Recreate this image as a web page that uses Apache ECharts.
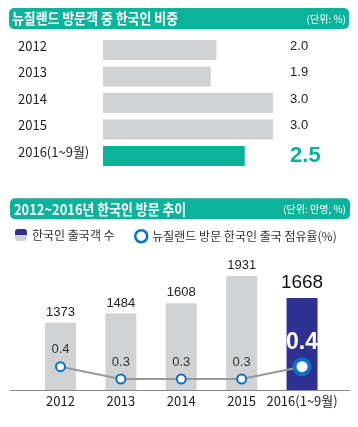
<!DOCTYPE html>
<html><head><meta charset="utf-8">
<script src="https://cdn.jsdelivr.net/npm/echarts@6/dist/echarts.min.js"></script>
<style>html,body{margin:0;padding:0;background:#fff}#c{width:358px;height:427px}</style>
</head><body><div id="c"></div>
<script>
// ---- data ----
const shareYears = ['2012', '2013', '2014', '2015', '2016(1~9월)'];
const shareValues = [2.0, 1.9, 3.0, 3.0, 2.5];
const trendYears = ['2012', '2013', '2014', '2015', '2016(1~9월)'];
const visitors = [1373, 1484, 1608, 1931, 1668];
const nzShare = [0.4, 0.3, 0.3, 0.3, 0.4];
const title1 = '뉴질랜드 방문객 중 한국인 비중';
const unit1 = '(단위: %)';
const title2 = '2012~2016년 한국인 방문 추이';
const unit2 = '(단위: 만명, %)';
const seriesName1 = '한국인 출국객 수';
const seriesName2 = '뉴질랜드 방문 한국인 출국 점유율(%)';

// ---- styles ----
const TEAL = '#0bb39b', GRAY = '#d1d2d4', NAVY = '#2e3192', BLUE = '#0a72c4';
const FONT = "'Liberation Sans','Noto Sans CJK KR',sans-serif";
const KFONT = "'Noto Sans CJK KR','Liberation Sans',sans-serif";
const last = shareValues.length - 1;

const chart = echarts.init(document.getElementById('c'), null, {renderer: 'canvas'});
chart.setOption({
  animation: false,
  textStyle: {fontFamily: FONT},
  grid: [
    {left: 103, top: 36.75, width: 187.1, height: 132.5},
    {left: 30.25, width: 302, top: 228.5, height: 161.5},
    {left: 30.25, width: 302, top: 354.4, height: 36.9}
  ],
  xAxis: [
    {type: 'value', gridIndex: 0, min: 0, max: 3.3, show: false},
    {type: 'category', gridIndex: 1, data: trendYears,
     axisLine: {show: false}, axisTick: {show: false},
     axisLabel: {interval: 0, margin: 5, fontSize: 13, color: '#222', fontFamily: KFONT}},
    {type: 'category', gridIndex: 2, data: trendYears, show: false}
  ],
  yAxis: [
    {type: 'category', gridIndex: 0, inverse: true, data: shareYears,
     axisLine: {show: false}, axisTick: {show: false},
     axisLabel: {interval: 0, align: 'left', margin: 85, fontSize: 13, color: '#222', fontFamily: KFONT,
       formatter: v => '{y|' + v + '}',
       rich: {y: {fontSize: 13, color: '#222', fontFamily: KFONT, padding: [0,0,8,0]}}}},
    {type: 'category', gridIndex: 0, inverse: true, position: 'right',
     data: shareValues.map(v => v.toFixed(1)),
     axisLine: {show: false}, axisTick: {show: false},
     axisLabel: {interval: 0, align: 'left', margin: 0, fontSize: 13, color: '#222',
       formatter: (v, i) => i === last ? '{big|' + v + '}' : '{n|' + v + '}',
       rich: {n: {fontSize: 13, color: '#222', padding: [0,0,8,0]},
              big: {fontSize: 22, fontWeight: 'bold', color: TEAL, padding: [0,0,0,0]}}}},
    {type: 'value', gridIndex: 1, min: 570, max: 2500, show: false},
    {type: 'value', gridIndex: 2, min: 0.2, max: 0.5, show: false}
  ],
  legend: [
    {left: 10, top: 224, itemWidth: 12, itemHeight: 12, itemGap: 0,
     data: [seriesName1],
     itemStyle: {color: {type: 'linear', x: 0, y: 0, x2: 0, y2: 1,
       colorStops: [{offset: 0, color: NAVY}, {offset: 0.5, color: NAVY},
                    {offset: 0.5, color: GRAY}, {offset: 1, color: GRAY}]}},
     textStyle: {fontSize: 12, color: '#333', fontFamily: KFONT}},
    {left: 129, top: 224, itemWidth: 12, itemHeight: 12, icon: 'circle',
     data: [seriesName2],
     itemStyle: {color: '#fff', borderColor: BLUE, borderWidth: 2.5},
     textStyle: {fontSize: 12, color: '#333', fontFamily: KFONT}}
  ],
  series: [
    {type: 'bar', name: 'share', xAxisIndex: 0, yAxisIndex: 0, barWidth: 20,
     data: shareValues.map((v, i) => ({value: v, itemStyle: {color: i === last ? TEAL : GRAY}}))},
    {type: 'bar', name: seriesName1, xAxisIndex: 1, yAxisIndex: 2, barWidth: 31,
     itemStyle: {color: GRAY},
     data: visitors.map((v, i) => ({value: v,
       itemStyle: {color: i === last ? NAVY : GRAY},
       label: i === last ? {fontSize: 19, color: '#111', distance: 6} : {}})),
     label: {show: true, position: 'top', distance: 4, fontSize: 13, color: '#222'}},
    {type: 'line', name: seriesName2, xAxisIndex: 2, yAxisIndex: 3,
     data: nzShare.map((v, i) => i === last ? {value: v, symbolSize: 15,
        itemStyle: {borderWidth: 4},
        label: {fontSize: 23, fontWeight: 'bold', color: '#fff', distance: 3}} : {value: v}),
     symbol: 'circle', symbolSize: 9,
     lineStyle: {color: '#999', width: 2},
     itemStyle: {color: '#fff', borderColor: BLUE, borderWidth: 2},
     label: {show: true, position: 'top', distance: 5, fontSize: 13, color: '#333',
       formatter: p => p.value.toFixed(1)},
     z: 5}
  ],
  graphic: [
    {type: 'rect', shape: {x: 9, y: 8, width: 340, height: 21, r: 5}, style: {fill: TEAL}},
    {type: 'text', x: 12, y: 18.5, scaleX: 0.86,
     style: {text: title1, fill: '#fff', font: "bold 15px " + KFONT, textVerticalAlign: 'middle', verticalAlign: 'middle'}},
    {type: 'text', x: 346, y: 19, style: {text: unit1, fill: '#fff', font: "10px " + KFONT, align: 'right', textAlign: 'right', verticalAlign: 'middle', textVerticalAlign: 'middle'}},
    {type: 'rect', shape: {x: 10, y: 198.3, width: 340, height: 21, r: 5}, style: {fill: TEAL}},
    {type: 'text', x: 14, y: 209, scaleX: 0.86,
     style: {text: title2, fill: '#fff', font: "bold 15px " + KFONT, verticalAlign: 'middle', textVerticalAlign: 'middle'}},
    {type: 'text', x: 346, y: 209.5, style: {text: unit2, fill: '#fff', font: "10px " + KFONT, align: 'right', textAlign: 'right', verticalAlign: 'middle', textVerticalAlign: 'middle'}},
    {type: 'line', shape: {x1: 10, y1: 390.5, x2: 350, y2: 390.5}, style: {stroke: '#888', lineWidth: 1}}
  ]
});
</script></body></html>
